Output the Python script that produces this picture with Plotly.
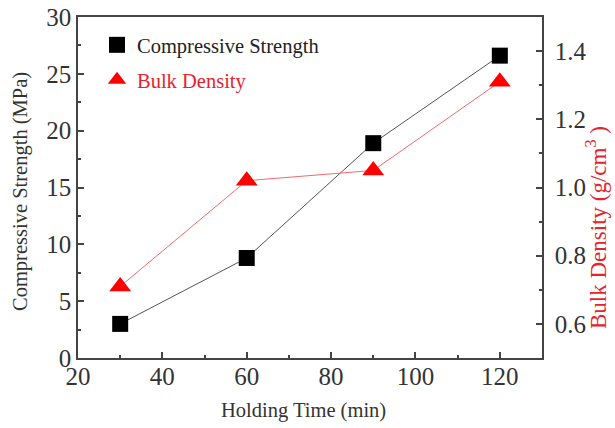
import plotly.graph_objects as go

holding_time = [30, 60, 90, 120]
compressive_strength = [3.0, 8.8, 18.9, 26.6]
bulk_density = [0.71, 1.02, 1.05, 1.31]

FONT = "Liberation Serif"
RED = "#e8222a"

L, R, T, B = 78, 73, 17, 70
W, H = 615, 428
PW, PH = W - L - R, H - T - B


def px_x(x):
    return (x - L) / PW


def px_y(y):
    return (H - B - y) / PH


fig = go.Figure()
fig.add_trace(go.Scatter(
    x=holding_time, y=compressive_strength, name="Compressive Strength",
    mode="lines+markers", showlegend=False,
    line=dict(color="#555555", width=1),
    marker=dict(symbol="square", size=16, color="black"),
))
fig.add_trace(go.Scatter(
    x=holding_time, y=bulk_density, name="Bulk Density",
    mode="lines+markers", yaxis="y2", showlegend=False,
    line=dict(color="#f06a70", width=1),
    marker=dict(symbol="triangle-up", size=19, color="#ff0000"),
))
# legend entries (markers only, as in the reference)
fig.add_trace(go.Scatter(
    x=[None], y=[None], name="Compressive Strength", mode="markers",
    marker=dict(symbol="square", size=16, color="black"), legend="legend",
))
fig.add_trace(go.Scatter(
    x=[None], y=[None], name="Bulk Density", mode="markers",
    marker=dict(symbol="triangle-up", size=19, color="#ff0000"), legend="legend2",
))

axis_common = dict(
    showline=True, linecolor="#444444", linewidth=1.5,
    ticks="inside", ticklen=6, tickcolor="#444444", tickwidth=1.5,
    showgrid=False, zeroline=False, automargin=False,
    tickfont=dict(family=FONT, size=25, color="#333333"),
)

fig.update_layout(
    width=W, height=H,
    margin=dict(l=L, r=R, t=T, b=B),
    paper_bgcolor="white", plot_bgcolor="white",
    showlegend=True,
    legend=dict(x=px_x(97), y=px_y(45), xanchor="left", yanchor="middle",
                font=dict(family=FONT, size=20.5, color="#222222"),
                bgcolor="rgba(0,0,0,0)"),
    legend2=dict(x=px_x(97), y=px_y(80), xanchor="left", yanchor="middle",
                 font=dict(family=FONT, size=20.5, color=RED),
                 bgcolor="rgba(0,0,0,0)"),
    xaxis=dict(range=[20, 130], dtick=20, tick0=20, mirror=True,
               ticklabelstandoff=-5,
               minor=dict(dtick=10, ticks="inside", ticklen=3, tickcolor="#444444"),
               **axis_common),
    yaxis=dict(range=[0, 30], dtick=5, tick0=0,
               minor=dict(dtick=2.5, ticks="inside", ticklen=3, tickcolor="#444444"),
               **axis_common),
    yaxis2=dict(range=[0.5, 1.5], dtick=0.2, tick0=0.6, overlaying="y", side="right",
                tickformat=".1f", ticklabelstandoff=6,
                minor=dict(dtick=0.1, ticks="inside", ticklen=3, tickcolor="#444444"),
                **axis_common),
    annotations=[
        dict(text="Holding Time (min)", xref="paper", yref="paper",
             x=px_x(303), y=px_y(410), xanchor="center", yanchor="middle",
             showarrow=False, font=dict(family=FONT, size=20.5, color="#333333")),
        dict(text="Compressive Strength (MPa)", xref="paper", yref="paper",
             x=px_x(20), y=px_y(192), xanchor="center", yanchor="middle", textangle=-90,
             showarrow=False, font=dict(family=FONT, size=20.5, color="#333333")),
        dict(text="Bulk Density (g/cm<sup>3</sup>&nbsp;)", xref="paper", yref="paper",
             x=px_x(596), y=px_y(228), xanchor="center", yanchor="middle", textangle=-90,
             showarrow=False, font=dict(family=FONT, size=23, color=RED)),
    ],
)

fig.write_html("out.html", config={"displayModeBar": False},
               post_script="document.body.style.margin='0';")
